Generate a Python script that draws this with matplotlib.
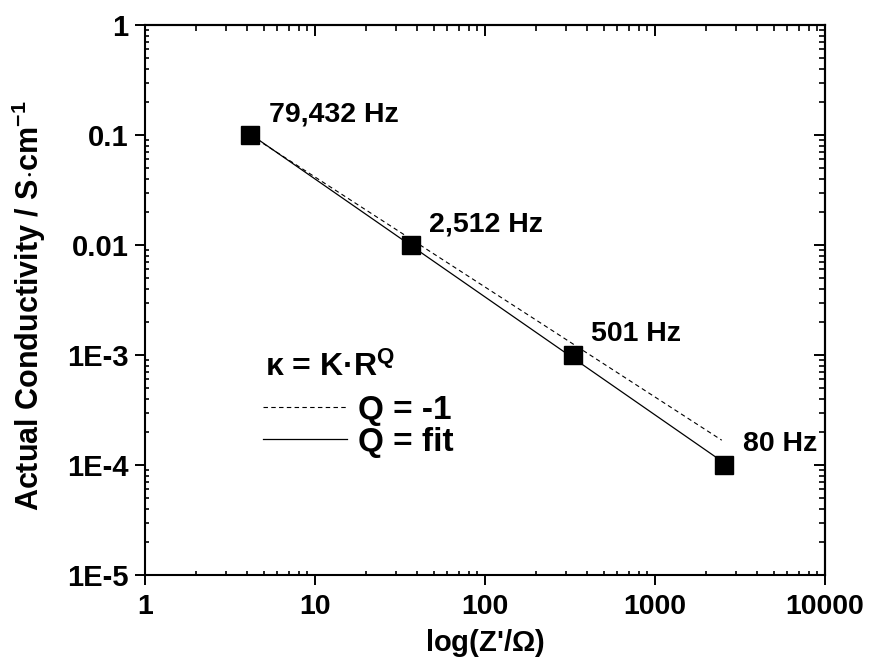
import matplotlib
matplotlib.use("Agg")
import matplotlib.pyplot as plt
import numpy as np
from matplotlib.ticker import NullFormatter

plt.rcParams['font.family'] = ['Liberation Sans', 'DejaVu Sans']
plt.rcParams['font.weight'] = 'bold'
plt.rcParams['mathtext.fontset'] = 'custom'
plt.rcParams['mathtext.rm'] = 'Liberation Sans'
plt.rcParams['mathtext.bf'] = 'Liberation Sans:bold'
plt.rcParams['mathtext.it'] = 'Liberation Sans:italic'

# ---- data ----
resistance = [4.15, 36.5, 328, 2557]          # Z' / Ohm
conductivity = [0.1, 0.01, 1e-3, 1e-4]        # S/cm
freq_labels = ['79,432 Hz', '2,512 Hz', '501 Hz', '80 Hz']
q_minus1_x = [4.15, 2470]                     # extent of the Q = -1 line
x_ticks = [1, 10, 100, 1000, 10000]
x_ticklabels = ['1', '10', '100', '1000', '10000']
y_ticks = [1e-5, 1e-4, 1e-3, 1e-2, 1e-1, 1]
y_ticklabels = ['1E-5', '1E-4', '1E-3', '0.01', '0.1', '1']

fig = plt.figure(figsize=(8.7, 6.64), dpi=100)
ax = fig.add_axes([145 / 870, 89 / 664, 680 / 870, 550 / 664])
ax.set_xscale('log')
ax.set_yscale('log')
ax.set_xlim(1, 1e4)
ax.set_ylim(1e-5, 1)

# fit line (Q = fit)
lx = np.log10(resistance)
ly = np.log10(conductivity)
Q, logK = np.polyfit(lx, ly, 1)
xfit = np.array([resistance[0], resistance[-1]])
h_fit, = ax.plot(xfit, 10 ** logK * xfit ** Q, color='black', lw=0.9)

# Q = -1 line through first point
qx = np.array(q_minus1_x)
K1 = conductivity[0] * resistance[0]
h_dash, = ax.plot(qx, K1 / qx, color='black', lw=0.8, ls=(0, (4, 3)))

ax.plot(resistance, conductivity, 's', ms=13.5, color='black', zorder=5)

for xv, yv, lab in zip(resistance, conductivity, freq_labels):
    ax.annotate(lab, (xv, yv), xytext=(13.5, 15), textcoords='offset points',
                ha='left', va='center', fontsize=20.5, fontweight='bold')

# ticks
ax.set_xticks(x_ticks, x_ticklabels)
ax.set_yticks(y_ticks, y_ticklabels)
ax.xaxis.set_minor_formatter(NullFormatter())
ax.yaxis.set_minor_formatter(NullFormatter())
ax.tick_params(axis='x', which='major', direction='out', length=7, width=1.4,
               labelsize=20.5, pad=7)
ax.tick_params(axis='y', which='major', direction='out', length=7, width=1.4,
               labelsize=21, pad=5)
ax.tick_params(which='minor', direction='in', length=3, width=1.2)
for sp in ax.spines.values():
    sp.set_linewidth(1.5)

ax_top = ax.secondary_xaxis('top')
ax_top.tick_params(which='major', direction='in', length=8, width=1.4)
ax_top.tick_params(which='minor', direction='in', length=4.5, width=1.2)
ax_top.xaxis.set_major_formatter(NullFormatter())
ax_top.xaxis.set_minor_formatter(NullFormatter())
ax_top.spines['top'].set_linewidth(1.5)

ax_right = ax.secondary_yaxis('right')
ax_right.tick_params(which='major', direction='in', length=8, width=1.4)
ax_right.tick_params(which='minor', direction='in', length=4.5, width=1.2)
ax_right.yaxis.set_major_formatter(NullFormatter())
ax_right.yaxis.set_minor_formatter(NullFormatter())
ax_right.spines['right'].set_linewidth(1.5)

# axis labels
ax.set_xlabel(r"log(Z'/$\mathrm{\Omega}$)", fontsize=21, fontweight='bold')
ax.xaxis.set_label_coords(0.5, -0.095)
ax.set_ylabel(r"Actual Conductivity / S$\cdot$cm$^{\mathbf{-1}}$", fontsize=22,
              fontweight='bold')
ax.yaxis.set_label_coords(-0.143, 0.49)

# legend-like annotation
ax.text(0.1765, 0.378, r"κ = K·R$^{\mathbf{Q}}$", transform=ax.transAxes,
        ha='left', va='center', fontsize=23, fontweight='bold')
ax.legend(handles=[h_dash, h_fit], labels=['Q = -1', 'Q = fit'],
          loc='upper left', bbox_to_anchor=(0.173, 0.327), frameon=False,
          prop={'size': 24, 'weight': 'bold'}, handlelength=2.52,
          handletextpad=0.33, labelspacing=0.02, borderpad=0, borderaxespad=0)

fig.savefig('out.png', dpi=100)
